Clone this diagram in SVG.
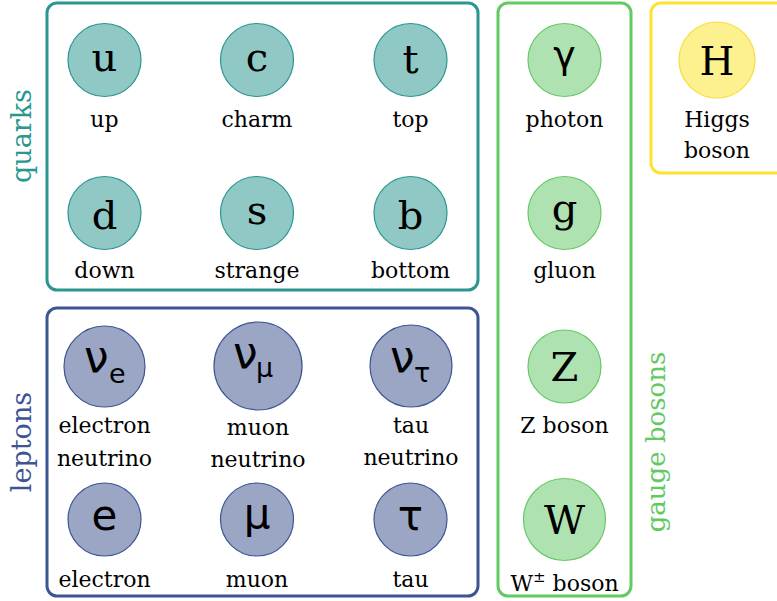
<svg xmlns="http://www.w3.org/2000/svg" width="777" height="601" viewBox="0 0 777 601">
<style>
.box{fill:none;stroke-width:3}
.q{fill:#8fc8c4;stroke:#2a9690;stroke-width:1.2}
.l{fill:#9ba6c5;stroke:#3d5593;stroke-width:1.2}
.g{fill:#aee3b1;stroke:#66c866;stroke-width:1.2}
.h{fill:#fdf08e;stroke:#f8de3a;stroke-width:1.2}
.sym{font-family:"DejaVu Serif",serif;font-size:40px;text-anchor:middle;fill:#000}
.gr{font-family:"DejaVu Sans",sans-serif;font-size:42px;fill:#000}
.nu{font-family:"DejaVu Sans",sans-serif;font-size:44px;fill:#000}
.grsub{font-family:"DejaVu Sans",sans-serif;font-size:27px;fill:#000}
.lab{font-family:"DejaVu Serif",serif;font-size:22px;text-anchor:middle;fill:#000}
.grp{font-family:"DejaVu Serif",serif;font-size:27px;text-anchor:middle}
</style>
<g id="quarks-group">
<rect class="box" x="47" y="3" width="431" height="287" rx="10" stroke="#2a9690"/>
<text class="grp" fill="#2a9690" transform="translate(31,136) rotate(-90)">quarks</text>
</g>
<g id="leptons-group">
<rect class="box" x="47" y="308" width="431" height="288" rx="10" stroke="#3d5593"/>
<text class="grp" fill="#3d5593" transform="translate(31,442) rotate(-90)">leptons</text>
</g>
<g id="gauge-group">
<rect class="box" x="498" y="3" width="133" height="593" rx="10" stroke="#63c963"/>
<text class="grp" fill="#63c963" style="font-size:26px" transform="translate(665,442) rotate(-90)">gauge bosons</text>
</g>
<g id="higgs-group">
<rect class="box" x="651" y="3" width="140" height="170" rx="10" stroke="#fde233"/>
</g>
<g id="u"><circle class="q" cx="104.5" cy="60" r="36.5"/><text class="sym" x="104.5" y="71">u</text><text class="lab" x="104.5" y="127">up</text></g>
<g id="c"><circle class="q" cx="257" cy="60" r="36.5"/><text class="sym" x="257" y="71">c</text><text class="lab" x="257" y="127">charm</text></g>
<g id="t"><circle class="q" cx="410.5" cy="60" r="36.5"/><text class="sym" x="410.5" y="73">t</text><text class="lab" x="410.5" y="127">top</text></g>
<g id="d"><circle class="q" cx="104.5" cy="213" r="36.5"/><text class="sym" x="104.5" y="229">d</text><text class="lab" x="104.5" y="278">down</text></g>
<g id="s"><circle class="q" cx="257" cy="213" r="36.5"/><text class="sym" x="257" y="224">s</text><text class="lab" x="257" y="278">strange</text></g>
<g id="b"><circle class="q" cx="410.5" cy="213" r="36.5"/><text class="sym" x="410.5" y="229">b</text><text class="lab" x="410.5" y="278">bottom</text></g>
<g id="nu_e"><circle class="l" cx="104.5" cy="366.5" r="40.5"/><text class="nu" x="84" y="372">ν</text><text class="grsub" x="109" y="383">e</text><text class="lab" x="104.5" y="433">electron</text><text class="lab" x="104.5" y="466">neutrino</text></g>
<g id="nu_mu"><circle class="l" cx="258" cy="366" r="44"/><text class="nu" x="233" y="368">ν</text><text class="grsub" x="256" y="377">μ</text><text class="lab" x="258" y="435">muon</text><text class="lab" x="258" y="467">neutrino</text></g>
<g id="nu_tau"><circle class="l" cx="411" cy="366" r="41"/><text class="nu" x="390" y="372">ν</text><text class="grsub" x="414" y="382">τ</text><text class="lab" x="411" y="433">tau</text><text class="lab" x="411" y="465">neutrino</text></g>
<g id="e"><circle class="l" cx="104.5" cy="519.5" r="36.5"/><text class="gr" x="104.5" y="530" text-anchor="middle">e</text><text class="lab" x="104.5" y="587">electron</text></g>
<g id="mu"><circle class="l" cx="257" cy="519.5" r="36.5"/><text class="gr" x="257" y="528" text-anchor="middle">μ</text><text class="lab" x="257" y="587">muon</text></g>
<g id="tau"><circle class="l" cx="410.5" cy="519.5" r="36.5"/><text class="gr" x="410.5" y="530" text-anchor="middle">τ</text><text class="lab" x="410.5" y="587">tau</text></g>
<g id="photon"><circle class="g" cx="564.5" cy="60" r="36.5"/><text class="gr" x="564.5" y="68" text-anchor="middle" style="font-size:38px">γ</text><text class="lab" x="564.5" y="127">photon</text></g>
<g id="gluon"><circle class="g" cx="564.5" cy="213" r="36.5"/><text class="sym" x="564.5" y="222">g</text><text class="lab" x="564.5" y="278">gluon</text></g>
<g id="Z"><circle class="g" cx="564.5" cy="366.5" r="36.5"/><text class="sym" x="564.5" y="381">Z</text><text class="lab" x="564.5" y="433">Z boson</text></g>
<g id="W"><circle class="g" cx="564.5" cy="519.5" r="41"/><text class="sym" x="564.5" y="534">W</text><text class="lab" x="564.5" y="591">W<tspan font-size="15" dy="-9">±</tspan><tspan dy="9"> boson</tspan></text></g>
<g id="H"><circle class="h" cx="717" cy="60" r="38"/><text class="sym" x="717" y="75">H</text><text class="lab" x="717" y="127">Higgs</text><text class="lab" x="717" y="158">boson</text></g>
<g id="connectors"/>
</svg>
